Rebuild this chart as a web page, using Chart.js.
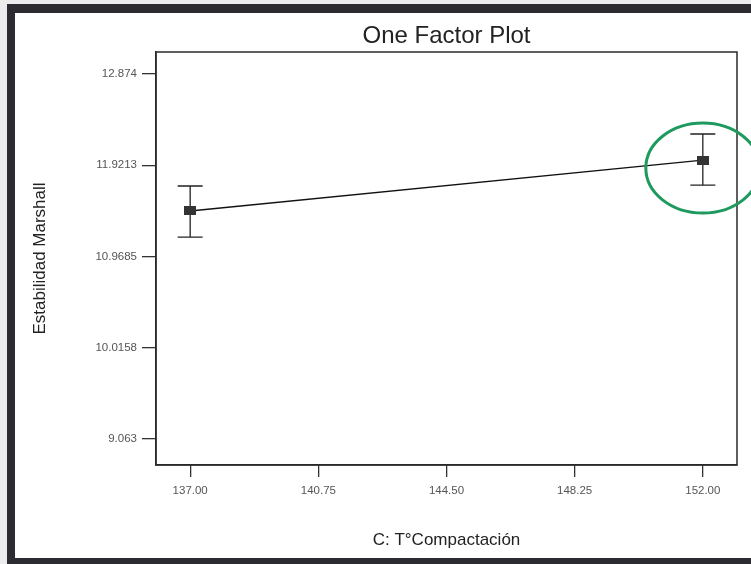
<!DOCTYPE html>
<html><head><meta charset="utf-8">
<script src="https://cdn.jsdelivr.net/npm/chart.js@4.4.1/dist/chart.umd.min.js"></script>
<style>
html,body{margin:0;padding:0;background:#ececec;}
#wrap{position:relative;width:751px;height:564px;overflow:hidden;background:#ececec;}
#frame{position:absolute;left:7px;top:4px;width:820px;height:562px;border-style:solid;border-color:#2b2b31;border-width:9px 8px 8px 8px;background:#fff;box-sizing:border-box;}
canvas{position:absolute;left:0;top:0;}
</style></head><body>
<div id="wrap"><div id="frame"></div><canvas id="c" width="751" height="564"></canvas></div>
<script>
const factorLevels = [137, 152];
const meanValues = [11.444, 11.976];
const lowerBounds = [11.172, 11.715];
const upperBounds = [11.705, 12.248];
const yTickValues = [9.063, 10.0158, 10.9685, 11.9213, 12.874];
const yTickLabels = ['9.063', '10.0158', '10.9685', '11.9213', '12.874'];
const xTickValues = [137, 140.75, 144.5, 148.25, 152];
const xTickLabels = ['137.00', '140.75', '144.50', '148.25', '152.00'];
const titleText = 'One Factor Plot';
const yTitle = 'Estabilidad Marshall';
const xTitle = 'C: T°Compactación';

Chart.defaults.font.family = "'Liberation Sans', Arial, sans-serif";

const marker = document.createElement('canvas');
marker.width = 12; marker.height = 9;
(function(){const m = marker.getContext('2d'); m.fillStyle = '#333'; m.fillRect(0,0,12,9);})();

const errorBars = {
  id: 'errorBars',
  beforeDatasetsDraw(chart) {
    const ctx = chart.ctx, xs = chart.scales.x, ys = chart.scales.y;
    ctx.save();
    ctx.strokeStyle = '#222';
    ctx.lineWidth = 1.3;
    factorLevels.forEach((lv, i) => {
      const x = xs.getPixelForValue(lv);
      const yl = ys.getPixelForValue(lowerBounds[i]);
      const yh = ys.getPixelForValue(upperBounds[i]);
      ctx.beginPath();
      ctx.moveTo(x, yl); ctx.lineTo(x, yh);
      ctx.moveTo(x - 12.5, yl); ctx.lineTo(x + 12.5, yl);
      ctx.moveTo(x - 12.5, yh); ctx.lineTo(x + 12.5, yh);
      ctx.stroke();
    });
    ctx.restore();
  },
  afterDraw(chart) {
    const ctx = chart.ctx, a = chart.chartArea, xs = chart.scales.x, ys = chart.scales.y;
    ctx.save();
    ctx.strokeStyle = '#2a2a2a';
    ctx.lineWidth = 1.5;
    ctx.strokeRect(a.left, a.top, a.right - a.left, a.bottom - a.top);
    const n = factorLevels.length - 1;
    const cx = xs.getPixelForValue(factorLevels[n]);
    const cy = ys.getPixelForValue(meanValues[n]) + 8;
    ctx.strokeStyle = '#1f9a5e';
    ctx.lineWidth = 3;
    ctx.beginPath();
    ctx.ellipse(cx, cy, 57, 45, 0, 0, Math.PI * 2);
    ctx.stroke();
    ctx.restore();
  }
};

new Chart(document.getElementById('c'), {
  type: 'scatter',
  data: {
    datasets: [{
      data: factorLevels.map((v, i) => ({x: v, y: meanValues[i]})),
      showLine: true,
      borderColor: '#111',
      borderWidth: 1.3,
      pointStyle: marker,
      pointRadius: 6,
      pointHoverRadius: 6
    }]
  },
  options: {
    responsive: false,
    animation: false,
    events: [],
    layout: {padding: {left: 0, right: 14, top: 0, bottom: 0}},
    plugins: {
      legend: {display: false},
      tooltip: {enabled: false},
      title: {
        display: true, text: titleText, fullSize: false,
        color: '#222', font: {size: 24, weight: 'normal'},
        padding: {top: 22, bottom: 1.2}
      }
    },
    scales: {
      x: {
        type: 'linear', min: 136, max: 153,
        afterBuildTicks(s) { s.ticks = xTickValues.map(v => ({value: v})); },
        afterFit(s) { s.height = 99; },
        grid: {drawOnChartArea: false, drawTicks: true, tickLength: 12, color: '#333', lineWidth: 1.3},
        border: {display: true, color: '#2a2a2a', width: 1.5},
        ticks: {autoSkip: false, maxRotation: 0, padding: 7, color: '#555', font: {size: 11.5},
          callback: (v, i) => xTickLabels[i]},
        title: {display: true, text: xTitle, color: '#222', font: {size: 17}, padding: {top: 0, bottom: 13}}
      },
      y: {
        type: 'linear', min: 8.792, max: 13.104,
        afterBuildTicks(s) { s.ticks = yTickValues.map(v => ({value: v})); },
        afterFit(s) { s.width = 156; },
        grid: {drawOnChartArea: false, drawTicks: true, tickLength: 14, color: '#333', lineWidth: 1.3},
        border: {display: true, color: '#2a2a2a', width: 1.5},
        ticks: {autoSkip: false, padding: 5, color: '#555', font: {size: 11.5},
          callback: (v, i) => yTickLabels[i]},
        title: {display: true, text: yTitle, color: '#222', font: {size: 17}, padding: {top: 29.8, bottom: 0}}
      }
    }
  },
  plugins: [errorBars]
});
</script>
</body></html>
